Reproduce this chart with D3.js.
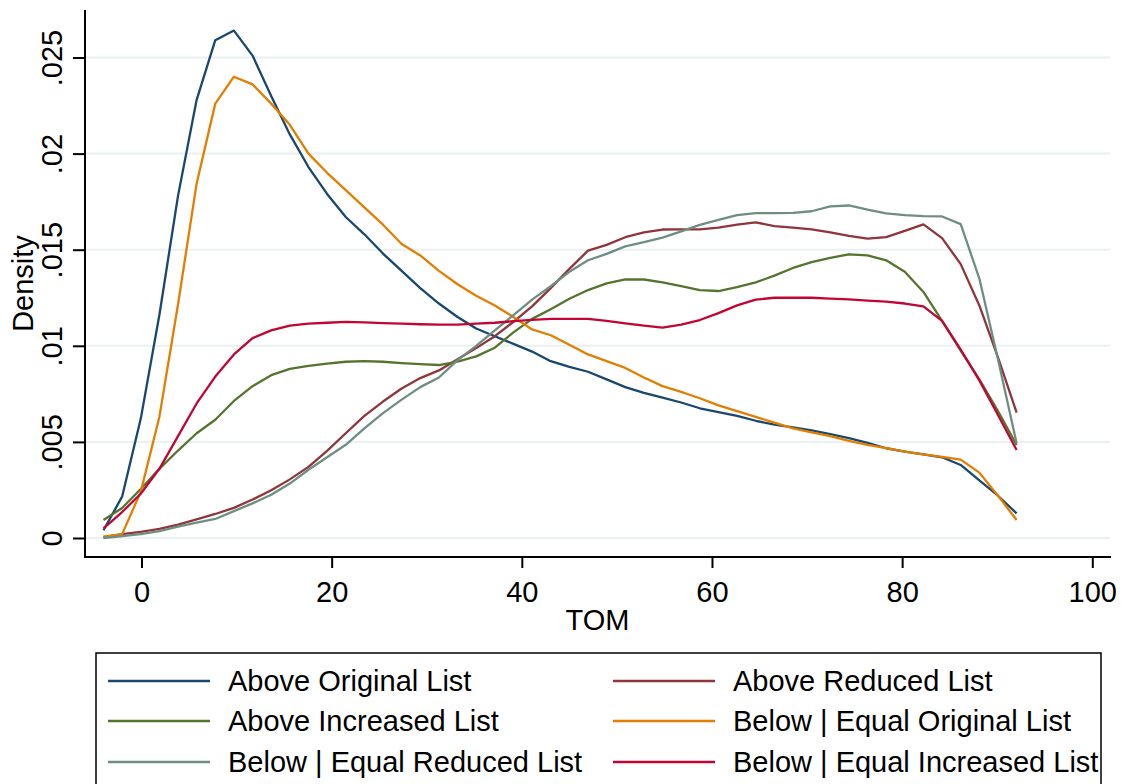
<!DOCTYPE html>
<html lang="en">
<head>
    <meta charset="UTF-8">
    <title>TOM density</title>
    <script src="https://d3js.org/d3.v7.min.js"></script>
    <style>
        body { margin: 0; background-color: #ffffff; }
        svg { display: block; }
        text { font-family: "Liberation Sans", Arial, sans-serif; fill: #000; }
    </style>
</head>
<body>
    <svg></svg>

    <script>
        let width = 1124, height = 784;

        // evaluation grid of the kernel density (50 points)
        const tom = [-4.00, -2.04, -0.08, 1.88, 3.84, 5.80, 7.76, 9.72, 11.68, 13.64,
                     15.60, 17.56, 19.52, 21.48, 23.44, 25.40, 27.36, 29.32, 31.28, 33.24,
                     35.20, 37.16, 39.12, 41.08, 43.04, 45.00, 46.96, 48.92, 50.88, 52.84,
                     54.80, 56.76, 58.72, 60.68, 62.64, 64.60, 66.56, 68.52, 70.48, 72.44,
                     74.40, 76.36, 78.32, 80.28, 82.24, 84.20, 86.16, 88.12, 90.08, 92.04];

        // density values, in thousandths
        const aboveOriginal = [0.4, 2.15, 6.2, 11.6, 17.8, 22.8, 25.9, 26.4, 25.1, 23.0,
                               21.0, 19.3, 17.9, 16.7, 15.8, 14.8, 13.9, 13.0, 12.2, 11.5,
                               10.9, 10.5, 10.1, 9.7, 9.2, 8.9, 8.65, 8.25, 7.85, 7.55,
                               7.3, 7.05, 6.75, 6.55, 6.35, 6.1, 5.9, 5.76, 5.6, 5.4,
                               5.2, 4.95, 4.67, 4.5, 4.35, 4.2, 3.8, 3.0, 2.2, 1.28];
        const aboveReduced = [0.04, 0.2, 0.32, 0.48, 0.7, 0.97, 1.25, 1.57, 2.0, 2.48,
                              3.05, 3.7, 4.53, 5.45, 6.35, 7.1, 7.78, 8.32, 8.72, 9.3,
                              9.88, 10.5, 11.25, 12.05, 13.0, 14.0, 14.95, 15.25, 15.65, 15.9,
                              16.05, 16.06, 16.06, 16.15, 16.3, 16.42, 16.23, 16.15, 16.06, 15.9,
                              15.72, 15.58, 15.65, 15.98, 16.32, 15.6, 14.25, 12.1, 9.4, 6.52];
        const aboveIncreased = [0.94, 1.56, 2.55, 3.6, 4.55, 5.45, 6.15, 7.13, 7.9, 8.47,
                                8.8, 8.95, 9.07, 9.17, 9.2, 9.17, 9.1, 9.05, 9.0, 9.18,
                                9.45, 9.9, 10.7, 11.4, 11.9, 12.45, 12.9, 13.25, 13.45, 13.45,
                                13.3, 13.1, 12.9, 12.85, 13.05, 13.3, 13.65, 14.05, 14.35, 14.58,
                                14.76, 14.7, 14.45, 13.85, 12.8, 11.3, 9.75, 8.25, 6.6, 4.84];
        const belowOriginal = [0.07, 0.2, 2.4, 6.3, 12.15, 18.45, 22.6, 24.0, 23.6, 22.6,
                               21.5, 20.0, 19.0, 18.1, 17.2, 16.3, 15.3, 14.7, 13.9, 13.2,
                               12.6, 12.1, 11.5, 10.85, 10.55, 10.05, 9.55, 9.2, 8.85, 8.35,
                               7.9, 7.6, 7.27, 6.9, 6.6, 6.3, 6.0, 5.7, 5.5, 5.3,
                               5.05, 4.85, 4.67, 4.5, 4.35, 4.22, 4.08, 3.4, 2.2, 0.94];
        const belowReduced = [0.0, 0.1, 0.2, 0.36, 0.59, 0.8, 0.99, 1.4, 1.8, 2.25,
                              2.83, 3.55, 4.2, 4.85, 5.7, 6.5, 7.2, 7.85, 8.35, 9.25,
                              10.0, 10.8, 11.6, 12.4, 13.1, 13.85, 14.45, 14.78, 15.17, 15.4,
                              15.63, 15.95, 16.29, 16.55, 16.8, 16.9, 16.9, 16.92, 17.0, 17.25,
                              17.3, 17.08, 16.89, 16.8, 16.75, 16.73, 16.33, 13.5, 9.3, 4.93];
        const belowIncreased = [0.5, 1.35, 2.3, 3.6, 5.3, 7.0, 8.4, 9.55, 10.4, 10.8,
                                11.05, 11.15, 11.2, 11.25, 11.22, 11.18, 11.15, 11.12, 11.1, 11.1,
                                11.15, 11.2, 11.28, 11.35, 11.4, 11.4, 11.4, 11.3, 11.17, 11.05,
                                10.95, 11.1, 11.34, 11.7, 12.1, 12.4, 12.5, 12.5, 12.5, 12.45,
                                12.42, 12.35, 12.3, 12.2, 12.05, 11.3, 9.8, 8.2, 6.4, 4.58];

        const seriesNames = ["Above Original List", "Above Reduced List", "Above Increased List",
                             "Below | Equal Original List", "Below | Equal Reduced List",
                             "Below | Equal Increased List"];
        const seriesColors = ["#1a476f", "#90353b", "#55752f", "#e37e00", "#6e8e84", "#c10534"];
        const seriesValues = [aboveOriginal, aboveReduced, aboveIncreased,
                              belowOriginal, belowReduced, belowIncreased];

        const xTicks = [0, 20, 40, 60, 80, 100];
        const yTicks = [0, 0.005, 0.01, 0.015, 0.02, 0.025];
        const yTickLabels = ["0", ".005", ".01", ".015", ".02", ".025"];

        let svg = d3.select("svg")
            .attr("width", width)
            .attr("height", height)
            .attr("viewBox", "0 0 " + width + " " + height);

        // plot region
        let plotL = 85, plotR = 1110, plotT = 10, plotB = 557;

        let x = d3.scaleLinear().domain([0, 100]).range([141.5, 1092.3]);
        let y = d3.scaleLinear().domain([0, 0.025]).range([538, 57.5]);

        // grid lines
        svg.append("g")
            .selectAll("line")
            .data(yTicks)
            .enter()
            .append("line")
            .attr("x1", plotL)
            .attr("x2", plotR)
            .attr("y1", d => y(d))
            .attr("y2", d => y(d))
            .attr("stroke", "#eaf1f3")
            .attr("stroke-width", 2);

        // curves
        let line = d3.line()
            .x(d => x(d[0]))
            .y(d => y(d[1] / 1000));

        svg.append("g")
            .selectAll("path")
            .data(seriesValues)
            .enter()
            .append("path")
            .attr("d", vals => line(vals.map((v, i) => [tom[i], v])))
            .attr("fill", "none")
            .attr("stroke", (d, i) => seriesColors[i])
            .attr("stroke-width", 2.3)
            .attr("stroke-linejoin", "round");

        // axes
        let xAxis = d3.axisBottom(x)
            .tickValues(xTicks)
            .tickSize(11)
            .tickFormat(d3.format("d"));
        let gx = svg.append("g")
            .attr("transform", "translate(0," + plotB + ")")
            .call(xAxis);
        gx.select(".domain").remove();
        gx.selectAll(".tick line").attr("stroke", "#000").attr("stroke-width", 2);
        gx.selectAll(".tick text")
            .attr("y", 45)
            .attr("dy", 0)
            .style("font-size", "29px")
            .style("font-family", "'Liberation Sans', Arial, sans-serif")
            .attr("fill", "#000");

        let yAxis = d3.axisLeft(y)
            .tickValues(yTicks)
            .tickSize(12)
            .tickFormat((d, i) => yTickLabels[i]);
        let gy = svg.append("g")
            .attr("transform", "translate(" + plotL + ",0)")
            .call(yAxis);
        gy.select(".domain").remove();
        gy.selectAll(".tick line").attr("stroke", "#000").attr("stroke-width", 2);
        gy.selectAll(".tick text")
            .attr("x", 0)
            .attr("y", 0)
            .attr("dy", 0)
            .attr("text-anchor", "middle")
            .attr("transform", "translate(-23,0) rotate(-90)")
            .style("font-size", "29px")
            .style("font-family", "'Liberation Sans', Arial, sans-serif")
            .attr("fill", "#000");

        svg.append("line")
            .attr("x1", plotL).attr("x2", plotL)
            .attr("y1", plotT).attr("y2", plotB + 1)
            .attr("stroke", "#000").attr("stroke-width", 2);
        svg.append("line")
            .attr("x1", plotL - 1).attr("x2", plotR + 1)
            .attr("y1", plotB).attr("y2", plotB)
            .attr("stroke", "#000").attr("stroke-width", 2);

        // axis titles
        svg.append("text")
            .attr("x", (plotL + plotR) / 2)
            .attr("y", 630)
            .attr("text-anchor", "middle")
            .style("font-size", "29px")
            .text("TOM");
        svg.append("text")
            .attr("transform", "translate(33," + (plotT + plotB) / 2 + ") rotate(-90)")
            .attr("text-anchor", "middle")
            .style("font-size", "29px")
            .text("Density");

        // legend
        let legend = svg.append("g");
        legend.append("rect")
            .attr("x", 96)
            .attr("y", 653)
            .attr("width", 1005)
            .attr("height", 200)
            .attr("fill", "#fff")
            .attr("stroke", "#000")
            .attr("stroke-width", 1.5);

        let colX = [108, 613], rowY = [681, 721, 762];
        let items = legend.selectAll("g.item")
            .data(seriesNames)
            .enter()
            .append("g")
            .attr("class", "item")
            .attr("transform", (d, i) => "translate(" + colX[i % 2] + "," + rowY[Math.floor(i / 2)] + ")");
        items.append("line")
            .attr("x1", 0).attr("x2", 102)
            .attr("y1", 0).attr("y2", 0)
            .attr("stroke", (d, i) => seriesColors[i])
            .attr("stroke-width", 2.5);
        items.append("text")
            .attr("x", 120)
            .attr("y", 10)
            .style("font-size", "29px")
            .text(d => d);
    </script>
</body>
</html>
